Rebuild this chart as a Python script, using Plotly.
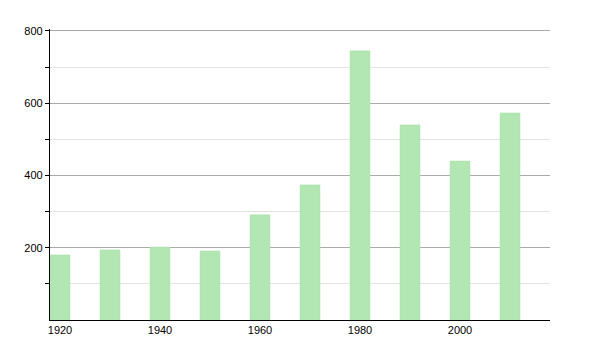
import plotly.graph_objects as go

years = [1920, 1930, 1940, 1950, 1960, 1970, 1980, 1990, 2000, 2010]
values = [180, 194, 202, 191, 291, 374, 745, 540, 440, 573]
x_ticks = [1920, 1940, 1960, 1980, 2000]
y_ticks = [200, 400, 600, 800]

fig = go.Figure(go.Bar(
    x=years, y=values, width=4,
    marker=dict(color="#b2e6b2", line=dict(color="#a8dfa8", width=0.5)),
))
fig.update_layout(
    width=600, height=350,
    margin=dict(l=50, r=50, t=29, b=30),
    paper_bgcolor="white", plot_bgcolor="white",
    showlegend=False,
    font=dict(family="Liberation Sans, Arial, sans-serif", size=11, color="black"),
)
fig.update_xaxes(
    range=[1918, 2018], tickvals=x_ticks, ticks="", showgrid=False,
    showline=True, linecolor="black", linewidth=1.2, zeroline=False,
    ticklabelstandoff=0,
)
fig.update_yaxes(
    range=[0, 805.5], tickvals=y_ticks, ticks="outside", ticklen=4,
    tickcolor="black", showline=True, linecolor="black", linewidth=1.2,
    gridcolor="#aaaaaa", gridwidth=1, zeroline=False,
    minor=dict(tickvals=[100, 300, 500, 700], ticks="outside", ticklen=4,
               tickcolor="black", showgrid=True, gridcolor="#e2e2e2"),
)
fig.write_html("out.html")
